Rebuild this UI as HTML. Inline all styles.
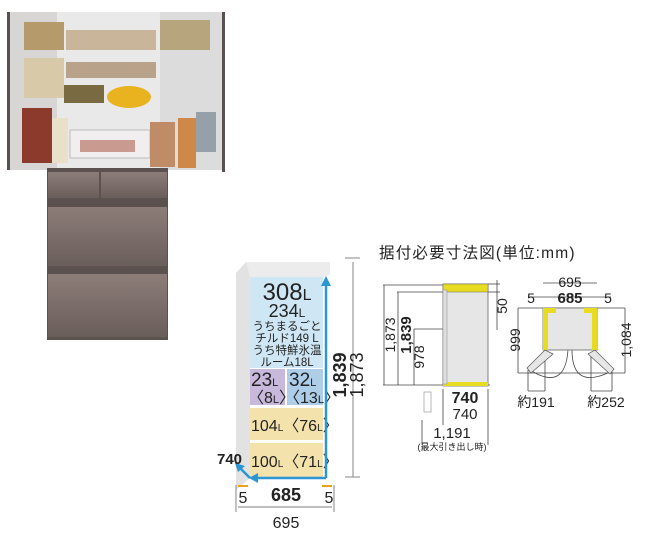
<!DOCTYPE html>
<html><head><meta charset="utf-8"><style>
html,body{margin:0;padding:0;background:#fff;width:660px;height:540px;overflow:hidden}
svg{display:block}
text{font-family:"Liberation Sans","Noto Sans CJK JP",sans-serif;fill:#222}
</style></head><body>
<svg width="660" height="540" viewBox="0 0 660 540" xmlns="http://www.w3.org/2000/svg">
<defs>
<linearGradient id="door" x1="0" y1="0" x2="0" y2="1"><stop offset="0" stop-color="#8c7d78"/><stop offset="1" stop-color="#6a5e5b"/></linearGradient>
</defs>
<rect x="7" y="12" width="218" height="158" fill="#e9e9ea"/>
<rect x="7" y="12" width="50" height="158" fill="#d8d6d4"/>
<rect x="160" y="12" width="65" height="158" fill="#dcdcdc"/>
<rect x="7" y="12" width="3" height="158" fill="#5a5050"/>
<rect x="222" y="12" width="3" height="160" fill="#5a5050"/>
<rect x="24" y="22" width="40" height="28" fill="#b59a6c"/>
<rect x="24" y="58" width="40" height="40" fill="#d8c9a8"/>
<rect x="22" y="108" width="30" height="55" fill="#8c3a2c"/>
<rect x="52" y="118" width="16" height="45" fill="#e8e0c8"/>
<rect x="66" y="30" width="90" height="20" fill="#c9b59a"/>
<rect x="66" y="62" width="90" height="16" fill="#b8a38a"/>
<rect x="64" y="85" width="40" height="18" fill="#7a6a42"/>
<ellipse cx="129" cy="97" rx="22" ry="11" fill="#e8b31f"/>
<rect x="70" y="130" width="80" height="28" fill="#f0eeee" stroke="#bbb"/>
<rect x="80" y="140" width="55" height="12" fill="#c99a90"/>
<rect x="160" y="20" width="50" height="30" fill="#b7a57d"/>
<rect x="150" y="122" width="25" height="45" fill="#c08c68"/>
<rect x="178" y="118" width="18" height="50" fill="#d08848"/>
<rect x="196" y="112" width="20" height="40" fill="#95a0a8"/>
<rect x="47" y="168" width="121" height="172" fill="#5b5250"/>
<rect x="48" y="172" width="51" height="26" fill="url(#door)"/>
<rect x="101" y="172" width="66" height="26" fill="url(#door)"/>
<rect x="48" y="207" width="119" height="59" fill="url(#door)"/>
<rect x="48" y="274" width="119" height="63" fill="url(#door)"/>

<polygon points="236,273 246,262 330,262 323,277 250,277 250,478 236,490" fill="#e2e2e2"/>
<polygon points="246,262 330,262 330,275 323,277 250,277" fill="#ececec"/>
<rect x="250" y="277" width="73" height="91" fill="#cfe7f5"/>
<rect x="250" y="369" width="35" height="36" fill="#c7b8dc"/>
<rect x="287" y="369" width="36" height="36" fill="#aecde8"/>
<rect x="250" y="408" width="73" height="32" fill="#f4e2ac"/>
<rect x="250" y="443" width="73" height="34" fill="#f4e2ac"/>
<text x="287" y="300" font-size="24" text-anchor="middle">308<tspan font-size="16">L</tspan></text>
<text x="287" y="317" font-size="18" text-anchor="middle">234<tspan font-size="12">L</tspan></text>
<text x="287" y="330" font-size="11.5" text-anchor="middle">うちまるごと</text>
<text x="287" y="342" font-size="11.5" text-anchor="middle">チルド149 L</text>
<text x="287" y="354" font-size="11.5" text-anchor="middle">うち特鮮氷温</text>
<text x="287" y="366" font-size="11.5" text-anchor="middle">ルーム18L</text>
<text x="251" y="386" font-size="19">23<tspan font-size="11">L</tspan></text>
<text x="248" y="403" font-size="16">〈8<tspan font-size="11">L</tspan>〉</text>
<text x="289" y="386" font-size="19">32<tspan font-size="11">L</tspan></text>
<text x="284" y="403" font-size="16">〈13<tspan font-size="11">L</tspan>〉</text>
<text x="251" y="431" font-size="16">104<tspan font-size="10">L</tspan>〈76<tspan font-size="10">L</tspan>〉</text>
<text x="251" y="467" font-size="16">100<tspan font-size="10">L</tspan>〈71<tspan font-size="10">L</tspan>〉</text>
<g stroke="#2a96d4" stroke-width="2.5" fill="#2a96d4">
<line x1="326" y1="283" x2="326" y2="478"/>
<line x1="256" y1="478" x2="326" y2="478"/>
<line x1="250" y1="478" x2="238" y2="466"/>
</g>
<polygon points="326,276 321,286 331,286" fill="#2a96d4"/>
<polygon points="249,478 258,473 258,483" fill="#2a96d4"/>
<polygon points="235,463 245,466 238,472" fill="#2a96d4"/>
<g stroke="#999" stroke-width="1.2">
<line x1="353" y1="262" x2="353" y2="477"/>
<line x1="345" y1="258" x2="360" y2="258"/>
<line x1="345" y1="477" x2="360" y2="477"/>
<line x1="236" y1="485" x2="236" y2="512"/>
<line x1="334" y1="485" x2="334" y2="512"/>
<line x1="238" y1="507" x2="332" y2="507"/>
</g>
<text transform="translate(346,375) rotate(-90)" font-size="18" font-weight="bold" text-anchor="middle">1,839</text>
<text transform="translate(363,375) rotate(-90)" font-size="18" text-anchor="middle">1,873</text>
<text x="217" y="464" font-size="15" font-weight="bold">740</text>
<g stroke="#e8a317" stroke-width="2"><line x1="238" y1="486" x2="248" y2="486"/><line x1="322" y1="486" x2="332" y2="486"/></g>
<text x="243" y="503" font-size="16" text-anchor="middle">5</text>
<text x="286" y="501" font-size="18" font-weight="bold" text-anchor="middle">685</text>
<text x="329" y="503" font-size="16" text-anchor="middle">5</text>
<text x="286" y="528" font-size="16" text-anchor="middle">695</text>

<text x="379" y="258" font-size="15.5" letter-spacing="1.2">据付必要寸法図(単位:mm)</text>
<g stroke="#444" stroke-width="0.8" fill="none">
<line x1="383" y1="285" x2="443" y2="285"/><line x1="397" y1="292" x2="443" y2="292"/>
<line x1="383" y1="385" x2="490" y2="385"/>
<line x1="384" y1="285" x2="384" y2="385"/><line x1="398" y1="292" x2="398" y2="385"/>
<line x1="414" y1="329" x2="443" y2="329"/><line x1="414" y1="329" x2="414" y2="385"/>
<line x1="443" y1="389" x2="443" y2="425"/><line x1="488" y1="389" x2="488" y2="445"/>
<line x1="422" y1="420" x2="422" y2="445"/>
<line x1="488" y1="284" x2="500" y2="284"/><line x1="488" y1="292" x2="500" y2="292"/>
<line x1="497" y1="280" x2="497" y2="330"/>
</g>
<rect x="443" y="284" width="45" height="102" fill="#e6e6e6" stroke="#666" stroke-width="0.8"/>
<rect x="443" y="284" width="45" height="8" fill="#e8dc20" stroke="#666" stroke-width="0.5"/>
<rect x="443" y="382" width="45" height="4" fill="#e8dc20"/>
<rect x="443" y="290" width="4" height="94" fill="#ddd" stroke="#888" stroke-width="0.5"/>
<rect x="424" y="392" width="7" height="20" fill="#fff" stroke="#888" stroke-width="0.6"/>
<text transform="translate(395,335) rotate(-90)" font-size="14" text-anchor="middle">1,873</text>
<text transform="translate(411,335) rotate(-90)" font-size="15" font-weight="bold" text-anchor="middle">1,839</text>
<text transform="translate(424,357) rotate(-90)" font-size="14" text-anchor="middle">978</text>
<text transform="translate(507,306) rotate(-90)" font-size="14" text-anchor="middle">50</text>
<text x="465" y="403" font-size="16" font-weight="bold" text-anchor="middle">740</text>
<text x="465" y="419" font-size="15" text-anchor="middle">740</text>
<text x="452" y="438" font-size="15" text-anchor="middle">1,191</text>
<text x="452" y="450" font-size="9" text-anchor="middle">(最大引き出し時)</text>
<g stroke="#444" stroke-width="0.8" fill="none">
<line x1="543" y1="283" x2="597" y2="283"/><line x1="528" y1="297" x2="611" y2="297"/>
<line x1="518" y1="308" x2="625" y2="308"/><line x1="518" y1="373" x2="625" y2="373"/>
<line x1="518" y1="308" x2="518" y2="373"/><line x1="625" y1="308" x2="625" y2="373"/>
<line x1="528" y1="370" x2="528" y2="391"/><line x1="545" y1="352" x2="545" y2="391"/>
<line x1="591" y1="352" x2="591" y2="391"/><line x1="612" y1="372" x2="612" y2="391"/>
<line x1="528" y1="391" x2="545" y2="391"/><line x1="591" y1="391" x2="612" y2="391"/>
<path d="M530,370 Q565,392 568,350"/><path d="M610,372 Q572,390 572,350"/>
</g>
<rect x="543" y="308" width="54" height="42" fill="#e6e6e6" stroke="#666" stroke-width="0.8"/>
<rect x="543" y="308" width="5" height="42" fill="#e8dc20"/>
<rect x="592" y="308" width="5" height="42" fill="#e8dc20"/>
<rect x="548" y="308" width="8" height="5" fill="#e8dc20"/>
<rect x="584" y="308" width="8" height="5" fill="#e8dc20"/>
<polygon points="545,350 527,368 531,373 553,354" fill="#e6e6e6" stroke="#555" stroke-width="0.7"/>
<polygon points="595,350 614,369 610,374 588,354" fill="#e6e6e6" stroke="#555" stroke-width="0.7"/>
<text x="570" y="287" font-size="14" text-anchor="middle">695</text>
<text x="570" y="303" font-size="15" font-weight="bold" text-anchor="middle">685</text>
<text x="531" y="303" font-size="14" text-anchor="middle">5</text>
<text x="608" y="303" font-size="14" text-anchor="middle">5</text>
<text transform="translate(520,340) rotate(-90)" font-size="14" text-anchor="middle">999</text>
<text transform="translate(631,340) rotate(-90)" font-size="14" text-anchor="middle">1,084</text>
<text x="536" y="407" font-size="14" text-anchor="middle">約191</text>
<text x="606" y="407" font-size="14" text-anchor="middle">約252</text>
</svg>
</body></html>
